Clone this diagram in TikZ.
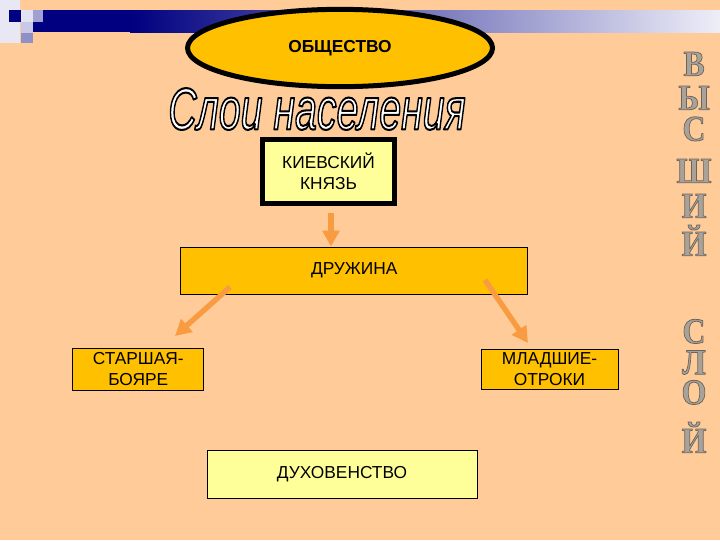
\documentclass[tikz,border=0pt]{standalone}
\usepackage{fontspec}
\setmainfont{Liberation Sans}
\newfontfamily\serifbold{Liberation Serif}
\usetikzlibrary{arrows.meta,calc,shapes.geometric}
\definecolor{peach}{RGB}{255,204,153}
\definecolor{gold}{RGB}{255,192,0}
\definecolor{lightyel}{RGB}{255,255,153}
\definecolor{arrorange}{RGB}{248,155,65}
\definecolor{navyband}{RGB}{0,0,128}
\definecolor{bandmid}{RGB}{110,110,185}
\definecolor{bandend}{RGB}{238,238,248}
\definecolor{lettergray}{RGB}{168,162,152}
\definecolor{sqa}{RGB}{232,232,244}
\definecolor{sqb}{RGB}{226,226,242}
\definecolor{sqc}{RGB}{160,160,210}
\definecolor{sqd}{RGB}{200,200,232}
\definecolor{sqe}{RGB}{144,144,200}
\newcommand{\titletext}{\resizebox{223pt}{31pt}{\fontsize{40}{40}\selectfont\itshape
  \color{white}\special{pdf:literal direct 0 0 0 RG 2 Tr 1.4 w 1 j}Слои населения\special{pdf:literal direct 0 Tr}}}
\newcommand{\vlet}[1]{\scalebox{1.0}[1.13]{\color{lettergray}\special{pdf:literal direct 0.42 0.39 0.36 RG 2 Tr 0.5 w 1 j}#1\special{pdf:literal direct 0 Tr}}}
\begin{document}
\begin{tikzpicture}[x=0.75pt,y=-0.75pt,
  box/.style={draw, line width=0.75pt, align=center, inner sep=0pt,
    font=\fontsize{13}{15.5}\selectfont},
  thickbox/.style={box, line width=3.75pt, fill=lightyel},
  orarrow/.style={draw=arrorange, line width=4pt,
    -{Triangle[width=12.5pt,length=12pt,fill=arrorange]}},
  vword/.style={anchor=south, inner sep=0pt, align=center}]
\useasboundingbox (0,0) rectangle (720,540);
\fill[peach] (0,0) rectangle (720,540);
% top band
\fill[navyband] (30,10) rectangle (131,32);
\shade[left color=navyband, middle color=bandmid, right color=bandend]
  (130,10) rectangle (720,32);
% corner squares
\fill[sqa] (0,0) rectangle (20,43);
\fill[navyband] (9,10) rectangle (22,22);
\fill[sqb] (21,10) rectangle (33,22);
\fill[sqc] (33,10) rectangle (43,22);
\fill[sqd] (21,22) rectangle (33,33);
\fill[navyband] (43,22) rectangle (60,32);
\fill[sqe] (21,33) rectangle (33,43);
% society ellipse
\node[ellipse, draw, line width=3.75pt, fill=gold, inner sep=0pt,
  minimum width=228.75pt, minimum height=58pt,
  font=\bfseries\fontsize{13}{15}\selectfont] (soc) at (340,48) {ОБЩЕСТВО};
% title
\node[inner sep=0pt] (title) at (317,109) {\titletext};
% boxes
\node[thickbox, minimum width=99pt, minimum height=48pt] (kn) at (328.5,171.5)
  {КИЕВСКИЙ\\КНЯЗЬ};
\node[box, fill=gold, minimum width=260.25pt, minimum height=35.25pt] (dr)
  at (354.25,270.5) {ДРУЖИНА};
\node[box, fill=gold, minimum width=98.6pt, minimum height=31.5pt] (st)
  at (138.25,369) {СТАРШАЯ-\\БОЯРЕ};
\node[box, fill=gold, minimum width=102.75pt, minimum height=30pt] (ml)
  at (549.5,369) {МЛАДШИЕ-\\ОТРОКИ};
\node[box, fill=lightyel, minimum width=202.5pt, minimum height=36pt] (dx)
  at (342,474) {ДУХОВЕНСТВО};
% arrows
\coordinate (a1) at (331,213);
\coordinate (a2) at (331,246.5);
\coordinate (b1) at (230,287);
\coordinate (b2) at (175,336);
\coordinate (c1) at (485,280);
\coordinate (c2) at (528,343);
\draw[orarrow] (a1) -- (a2);
\draw[orarrow] (b1) -- (b2);
\draw[orarrow] (c1) -- (c2);
% vertical words
\node[vword, font=\serifbold\bfseries\fontsize{24}{25.5}\selectfont] (w1) at (694,256)
  {\vlet{В}\\\vlet{Ы}\\[-2.25pt]\vlet{С}\\[6pt]\vlet{Ш}\\[0.75pt]\vlet{И}\\[3pt]\vlet{Й}};
\node[vword, font=\serifbold\bfseries\fontsize{24}{23.25}\selectfont] (w2) at (694,453)
  {\vlet{С}\\\vlet{Л}\\[-0.75pt]\vlet{О}\\[12pt]\vlet{Й}};
\end{tikzpicture}
\end{document}
